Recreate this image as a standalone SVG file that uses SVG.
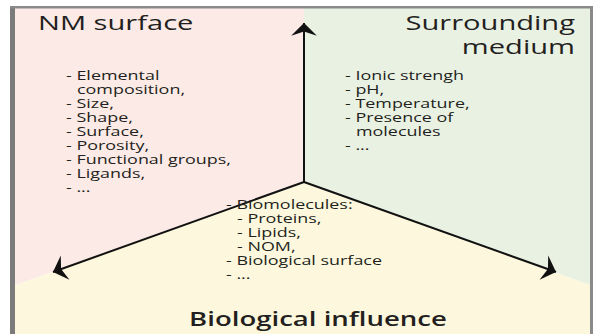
<svg xmlns="http://www.w3.org/2000/svg" width="595" height="334" viewBox="0 0 595 334">
<style>
text{font-family:"Open Sans","Noto Sans","DejaVu Sans",sans-serif;fill:#231f20}
.title{font-size:20.5px}
.item{font-size:12.8px}
.bio{font-size:19px;font-weight:600}
.conn{stroke:#111;stroke-width:2;fill:none}
</style>
<defs>
<marker id="ah" markerUnits="userSpaceOnUse" markerWidth="30" markerHeight="30" viewBox="-14 -14 28 28" refX="0" refY="0" orient="auto">
<path d="M0,0 L-12,-12 L-8,0 L-12,12 Z" fill="#111"/>
</marker>
</defs>
<rect x="0" y="0" width="595" height="334" fill="#fff"/>
<g id="regions">
<polygon points="15,8 304,8 304,182 15,285.2" fill="#fbeae6"/>
<polygon points="304,8 590,8 590,284.9 304,182" fill="#e9f1e3"/>
<polygon points="15,285.2 304,182 590,284.9 590,334 15,334" fill="#fdf8dd"/>
</g>
<g id="frame">
<rect x="10" y="6" width="5" height="328" fill="#7b7b7b"/>
<rect x="10" y="6" width="583" height="2.5" fill="#8a8a8a"/>
<rect x="590" y="6" width="3" height="328" fill="#8a8a8a"/>
</g>
<g id="connectors">
<line class="conn" x1="304" y1="182" x2="304" y2="23" marker-end="url(#ah)"/>
<line class="conn" x1="304" y1="182" x2="53" y2="272" marker-end="url(#ah)"/>
<line class="conn" x1="304" y1="182" x2="556" y2="272" marker-end="url(#ah)"/>
</g>
<g id="nm-surface">
<text class="title" transform="matrix(1.42 0 0 1 38 30)">NM surface</text>
<text class="item" transform="matrix(1.4 0 0 1 66 80)">- Elemental</text>
<text class="item" transform="matrix(1.4 0 0 1 77 94)">composition,</text>
<text class="item" transform="matrix(1.4 0 0 1 66 108)">- Size,</text>
<text class="item" transform="matrix(1.4 0 0 1 66 122)">- Shape,</text>
<text class="item" transform="matrix(1.4 0 0 1 66 136)">- Surface,</text>
<text class="item" transform="matrix(1.4 0 0 1 66 150)">- Porosity,</text>
<text class="item" transform="matrix(1.4 0 0 1 66 164)">- Functional groups,</text>
<text class="item" transform="matrix(1.4 0 0 1 66 178)">- Ligands,</text>
<text class="item" transform="matrix(1.4 0 0 1 66 192)">- ...</text>
</g>
<g id="surrounding-medium">
<text class="title" text-anchor="end" transform="matrix(1.42 0 0 1 575 30)">Surrounding</text>
<text class="title" text-anchor="end" transform="matrix(1.42 0 0 1 575 54)">medium</text>
<text class="item" transform="matrix(1.4 0 0 1 345 80)">- Ionic strengh</text>
<text class="item" transform="matrix(1.4 0 0 1 345 94)">- pH,</text>
<text class="item" transform="matrix(1.4 0 0 1 345 108)">- Temperature,</text>
<text class="item" transform="matrix(1.4 0 0 1 345 122)">- Presence of</text>
<text class="item" transform="matrix(1.4 0 0 1 356 136)">molecules</text>
<text class="item" transform="matrix(1.4 0 0 1 345 150)">- ...</text>
</g>
<g id="biological-influence">
<text class="item" transform="matrix(1.4 0 0 1 226 209)">- Biomolecules:</text>
<text class="item" transform="matrix(1.4 0 0 1 237 223)">- Proteins,</text>
<text class="item" transform="matrix(1.4 0 0 1 237 237)">- Lipids,</text>
<text class="item" transform="matrix(1.4 0 0 1 237 251)">- NOM,</text>
<text class="item" transform="matrix(1.4 0 0 1 226 265)">- Biological surface</text>
<text class="item" transform="matrix(1.4 0 0 1 226 279)">- ...</text>
<text class="bio" text-anchor="middle" transform="matrix(1.45 0 0 1 318 326)">Biological influence</text>
</g>
</svg>
